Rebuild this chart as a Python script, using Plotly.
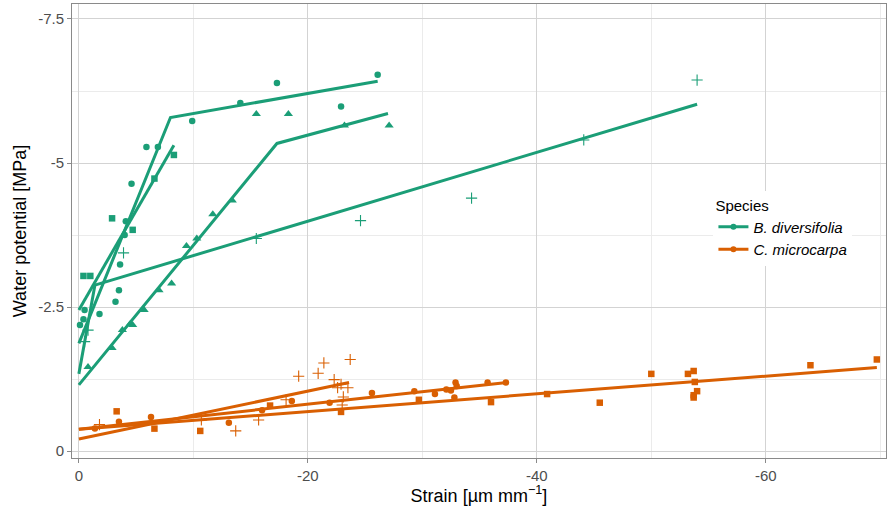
import plotly.graph_objects as go

GREEN = "#1B9E77"
ORANGE = "#D95F02"

# ---- B. diversifolia ----
bd_circle_x = [-0.1, -0.4, -0.5, -1.8, -3.2, -3.5, -3.6, -4.0, -4.1, -4.6, -5.9, -6.9, -9.9, -14.1, -17.3, -22.9, -26.1]
bd_circle_y = [-2.19, -2.29, -2.45, -2.38, -2.59, -2.79, -3.24, -3.75, -3.99, -4.64, -5.28, -5.28, -5.73, -6.04, -6.39, -5.98, -6.53]
bd_circle_fit_x = [0, -8.0, -26.1]
bd_circle_fit_y = [-1.87, -5.79, -6.42]

bd_square_x = [-0.4, -1.0, -2.9, -4.7, -6.6, -8.3]
bd_square_y = [-3.04, -3.04, -4.04, -3.84, -4.73, -5.14]
bd_square_fit_x = [0, -8.3]
bd_square_fit_y = [-2.45, -5.31]

bd_tri_x = [-0.8, -2.9, -3.8, -4.5, -4.7, -5.7, -7.0, -8.1, -9.4, -10.3, -11.7, -13.4, -15.5, -18.3, -23.2, -27.1]
bd_tri_y = [-1.46, -1.79, -2.10, -2.21, -2.19, -2.45, -2.79, -2.91, -3.56, -3.69, -4.11, -4.35, -5.85, -5.85, -5.65, -5.65]
bd_tri_fit_x = [0, -17.3, -27.0]
bd_tri_fit_y = [-1.15, -5.34, -5.86]

bd_plus_x = [-0.5, -0.8, -3.9, -15.5, -24.6, -34.3, -44.1, -54.0]
bd_plus_y = [-1.90, -2.10, -3.44, -3.69, -4.00, -4.39, -5.40, -6.44]
bd_plus_fit_x = [0, -1.4, -54.0]
bd_plus_fit_y = [-1.34, -2.88, -6.02]

# ---- C. microcarpa ----
cm_circle_x = [-1.4, -3.5, -6.3, -13.1, -16.0, -18.6, -21.9, -25.6, -29.3, -31.1, -32.1, -32.5, -32.9, -33.0, -32.8, -35.7, -37.3]
cm_circle_y = [-0.39, -0.51, -0.59, -0.49, -0.71, -0.87, -0.84, -1.01, -1.04, -0.99, -1.07, -1.05, -1.19, -1.13, -0.93, -1.19, -1.19]
cm_circle_fit_x = [0, -37.4]
cm_circle_fit_y = [-0.38, -1.19]

cm_square_x = [-3.3, -6.6, -10.6, -16.7, -22.9, -29.7, -36.0, -40.9, -45.5, -50.0, -53.2, -53.7, -53.8, -54.0, -53.7, -53.7, -63.9, -69.7]
cm_square_y = [-0.69, -0.39, -0.35, -0.79, -0.68, -0.89, -0.85, -0.99, -0.84, -1.34, -1.34, -1.39, -1.20, -1.04, -0.97, -0.93, -1.49, -1.59]
cm_square_fit_x = [0, -69.7]
cm_square_fit_y = [-0.38, -1.45]

cm_plus_x = [-1.8, -10.7, -13.7, -15.7, -18.1, -19.2, -20.9, -21.4, -22.3, -22.6, -23.0, -23.1, -23.5, -23.7, -22.9]
cm_plus_y = [-0.46, -0.54, -0.35, -0.54, -0.89, -1.30, -1.35, -1.53, -1.24, -1.10, -0.80, -0.94, -1.10, -1.59, -1.16]
cm_plus_fit_x = [0, -23.6]
cm_plus_fit_y = [-0.21, -1.19]

species = ["<i>B. diversifolia</i>", "<i>C. microcarpa</i>"]
x_ticks = [0, -20, -40, -60]
x_ticklabels = ["0", "-20", "-40", "-60"]
y_ticks = [0, -2.5, -5, -7.5]
y_ticklabels = ["0", "-2.5", "-5", "-7.5"]

fig = go.Figure()

def add_points(x, y, color, symbol, size, lw=0):
    fig.add_trace(go.Scatter(
        x=x, y=y, mode="markers", showlegend=False, hoverinfo="skip",
        marker=dict(symbol=symbol, size=size, color=color,
                    line=dict(width=lw, color=color))))

def add_fit(x, y, color):
    fig.add_trace(go.Scatter(x=x, y=y, mode="lines", showlegend=False, hoverinfo="skip",
                             line=dict(color=color, width=3)))

for col, sets in [
    (GREEN, [(bd_circle_x, bd_circle_y, bd_circle_fit_x, bd_circle_fit_y, "circle"),
             (bd_square_x, bd_square_y, bd_square_fit_x, bd_square_fit_y, "square"),
             (bd_tri_x, bd_tri_y, bd_tri_fit_x, bd_tri_fit_y, "triangle-up"),
             (bd_plus_x, bd_plus_y, bd_plus_fit_x, bd_plus_fit_y, "cross-thin-open")]),
    (ORANGE, [(cm_circle_x, cm_circle_y, cm_circle_fit_x, cm_circle_fit_y, "circle"),
              (cm_square_x, cm_square_y, cm_square_fit_x, cm_square_fit_y, "square"),
              (cm_plus_x, cm_plus_y, cm_plus_fit_x, cm_plus_fit_y, "cross-thin-open")]),
]:
    for px, py, fx, fy, sym in sets:
        if sym == "cross-thin-open":
            add_points(px, py, col, sym, 8, 1.1)
        elif sym == "triangle-up":
            add_points(px, py, col, sym, 8)
        else:
            add_points(px, py, col, sym, 6.5)
        add_fit(fx, fy, col)

for name, col in zip(species, [GREEN, ORANGE]):
    fig.add_trace(go.Scatter(x=[None], y=[None], mode="lines+markers", name=name,
                             line=dict(color=col, width=3),
                             marker=dict(symbol="circle", size=6, color=col)))

axis_common = dict(
    showline=True, linecolor="#8a8a8a", linewidth=1, mirror=True,
    ticks="outside", ticklen=4, tickcolor="#8a8a8a", tickwidth=1,
    showgrid=True, gridcolor="#d3d3d3", gridwidth=1.2, zeroline=False,
    tickfont=dict(size=15, color="#4d4d4d"),
)

fig.update_layout(
    width=888, height=506,
    margin=dict(l=72, r=2, t=4, b=48),
    plot_bgcolor="white", paper_bgcolor="white",
    font=dict(family="Liberation Sans, Arial, sans-serif", color="black"),
    xaxis=dict(range=[0.6, -70.5], tickvals=x_ticks, ticktext=x_ticklabels,
               title=dict(text="Strain [µm mm<sup>−1</sup>]", font=dict(size=18), standoff=5),
               minor=dict(dtick=10, tick0=0, showgrid=True, gridcolor="#ebebeb", gridwidth=1, ticklen=0),
               **axis_common),
    yaxis=dict(range=[0.12, -7.76], tickvals=y_ticks, ticktext=y_ticklabels,
               title=dict(text="Water potential [MPa]", font=dict(size=18), standoff=6),
               minor=dict(dtick=1.25, tick0=0, showgrid=True, gridcolor="#ebebeb", gridwidth=1, ticklen=0),
               **axis_common),
    legend=dict(x=0.788, y=0.588, xanchor="left", yanchor="top",
                bgcolor="white", borderwidth=0, itemwidth=30,
                title=dict(text="Species", font=dict(size=15)),
                font=dict(size=15), tracegroupgap=0),
)

fig.write_html("out.html", config={"displayModeBar": False})

# remove default browser body margin so the figure sits at the window origin
with open("out.html", "r", encoding="utf-8") as f:
    html = f.read()
html = html.replace("<head>", "<head><style>html,body{margin:0;padding:0;}</style>", 1)
with open("out.html", "w", encoding="utf-8") as f:
    f.write(html)
